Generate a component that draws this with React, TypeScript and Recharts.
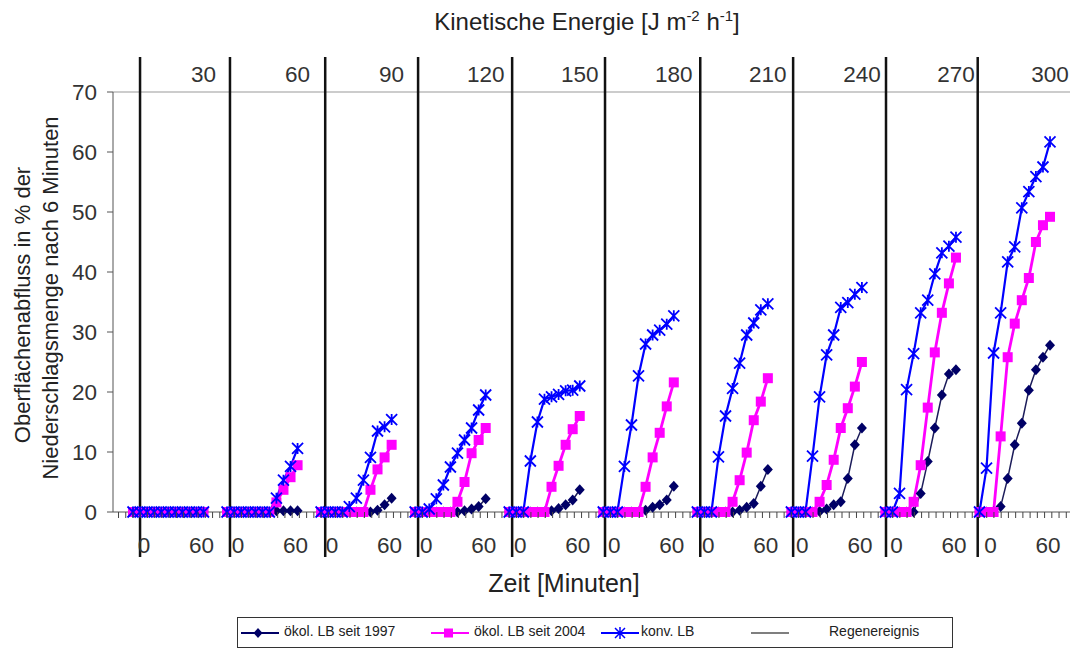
import { LineChart, Line, XAxis, YAxis, ReferenceLine, Label } from "recharts";

// kinetic energy per panel [J m-2 h-1]
const energies = [30, 60, 90, 120, 150, 180, 210, 240, 270, 300];
// reading times inside a panel [min]
const minutes = [0, 6, 12, 18, 24, 30, 36, 42, 48, 54, 60];
// start of the rain event (Regenereignis) per panel [min]
const rainStart = [6, 2.5, 3.5, 2.5, 2.5, 1.5, 2.5, 1.5, 0.5, -1.5];

// surface runoff in % of precipitation, one row per energy level
const oekol1997 = [
  [0, 0, 0, 0, 0, 0, 0, 0, 0, 0, 0],
  [0, 0, 0, 0, 0, 0, 0, 0.2, 0.2, 0.2, 0.2],
  [0, 0, 0, 0, 0, 0, 0, 0, 0.3, 1.2, 2.3],
  [0, 0, 0, 0, 0, 0, 0, 0.2, 0.5, 0.9, 2.2],
  [0, 0, 0, 0, 0, 0, 0.2, 0.6, 1.2, 2, 3.7],
  [0, 0, 0, 0, 0, 0, 0.3, 0.8, 1.2, 2, 4.3],
  [0, 0, 0, 0, 0, 0, 0.3, 0.8, 1.4, 4.3, 7.1],
  [0, 0, 0, 0, 0.1, 0.5, 1.2, 1.7, 5.6, 11.2, 14],
  [0, 0, 0, 0, 0, 3.1, 8.4, 14, 19.5, 23, 23.7],
  [0, 0, 0, 0.9, 5.6, 11.2, 14.8, 20.3, 23.7, 25.8, 27.8],
];
const oekol2004 = [
  [0, 0, 0, 0, 0, 0, 0, 0, 0, 0, 0],
  [0, 0, 0, 0, 0, 0, 0, 1.6, 3.7, 5.8, 7.8],
  [0, 0, 0, 0, 0, 0, 0, 3.7, 7.1, 9.1, 11.2],
  [0, 0, 0, 0, 0, 0, 1.7, 5, 9.8, 12, 14],
  [0, 0, 0, 0, 0, 0, 4.2, 7.7, 11.2, 13.8, 16],
  [0, 0, 0, 0, 0, 0, 4.2, 9.1, 13.2, 17.6, 21.6],
  [0, 0, 0, 0, 0, 1.7, 5.3, 9.9, 15.3, 18.4, 22.3],
  [0, 0, 0, 0, 1.7, 4.5, 8.7, 14, 17.3, 20.9, 25],
  [0, 0, 0, 0, 1.7, 7.8, 17.4, 26.6, 33.2, 38.1, 42.4],
  [0, 0, 0, 12.6, 25.8, 31.4, 35.3, 39, 45, 47.8, 49.2],
];
const konv = [
  [0, 0, 0, 0, 0, 0, 0, 0, 0, 0, 0],
  [0, 0, 0, 0, 0, 0, 0, 2.3, 5.3, 7.6, 10.6],
  [0, 0, 0, 0, 0.9, 2.3, 5.3, 9.1, 13.5, 14.2, 15.4],
  [0, 0, 0.5, 2.2, 4.5, 7.5, 9.8, 12, 14, 17, 19.5],
  [0, 0, 0, 8.5, 15, 18.8, 19.2, 19.6, 20.2, 20.3, 21],
  [0, 0, 0, 7.6, 14.5, 22.7, 28, 29.5, 30.3, 31.3, 32.7],
  [0, 0, 0, 9.2, 16, 20.6, 24.8, 29.5, 31.5, 33.7, 34.7],
  [0, 0, 0, 9.3, 19.2, 26.2, 29.5, 34.1, 34.9, 36.3, 37.4],
  [0, 0, 3.1, 20.4, 26.4, 33.2, 35.3, 39.7, 43.2, 44.3, 45.8],
  [0, 7.3, 26.5, 33.2, 41.7, 44.2, 50.7, 53.4, 55.9, 57.5, 61.7],
];
const yTicks = [0, 10, 20, 30, 40, 50, 60, 70];

// each panel takes PERIOD minutes on the shared x axis
const PERIOD = 80;
const X_DOMAIN = [-17, 797];
const FONT = "'Liberation Sans', Arial, sans-serif";
const TICK_SIZE = 22.5;
const NAVY = "#000066";
const MAGENTA = "#ff00ff";
const BLUE = "#0000ff";

const rows: any[] = [];
energies.forEach((_, i) => {
  minutes.forEach((t, j) => {
    rows.push({
      x: i * PERIOD + t,
      oekol1997: oekol1997[i][j],
      oekol2004: oekol2004[i][j],
      konv: konv[i][j],
    });
  });
  // gap row so the lines break between panels
  rows.push({ x: i * PERIOD + 70, oekol1997: null, oekol2004: null, konv: null });
});

// minor ticks every PERIOD/13 minutes plus the "60" label of each panel
const minorStep = PERIOD / 13;
const bottomTicks: number[] = [];
for (let k = -2; k * minorStep <= X_DOMAIN[1]; k++) bottomTicks.push((k * PERIOD) / 13);
energies.forEach((_, i) => bottomTicks.push(i * PERIOD + 60));
bottomTicks.sort((a, b) => a - b);

const BottomTick = (p: any) => {
  const v = p.payload.value;
  const rel = Math.round((((v % PERIOD) + PERIOD) % PERIOD) * 100) / 100;
  const txt = { fontSize: TICK_SIZE, fill: "#333", fontFamily: FONT, textAnchor: "middle" as const };
  if (rel === 60) {
    return (
      <text x={p.x - 2} y={p.y + 41} {...txt}>
        60
      </text>
    );
  }
  return (
    <g>
      <line x1={p.x} x2={p.x} y1={p.y} y2={p.y + 6} stroke="#444" strokeWidth={1} />
      {rel === 0 && (
        <text x={p.x + 11} y={p.y + 41} {...txt}>
          0
        </text>
      )}
    </g>
  );
};

const diamondDot = (p: any) => {
  if (p.cy == null || p.cx == null) return <g key={p.index} />;
  const { cx, cy } = p;
  return (
    <path
      key={p.index}
      d={`M${cx},${cy - 5.5}L${cx + 5},${cy}L${cx},${cy + 5.5}L${cx - 5},${cy}Z`}
      fill={NAVY}
    />
  );
};

const squareDot = (p: any) => {
  if (p.cy == null || p.cx == null) return <g key={p.index} />;
  return <rect key={p.index} x={p.cx - 5} y={p.cy - 5} width={10} height={10} fill={MAGENTA} />;
};

const starDot = (p: any) => {
  if (p.cy == null || p.cx == null) return <g key={p.index} />;
  const { cx, cy } = p;
  return (
    <path
      key={p.index}
      d={`M${cx - 5.5},${cy - 5.5}L${cx + 5.5},${cy + 5.5}M${cx - 5.5},${cy + 5.5}L${cx + 5.5},${cy - 5.5}M${cx},${cy - 5.5}L${cx},${cy + 5.5}`}
      stroke={BLUE}
      strokeWidth={1.8}
      fill="none"
    />
  );
};

// rain event lines reach above and below the plot area
const rainLine = (p: any) => (
  <line
    x1={p.x1}
    x2={p.x2}
    y1={Math.min(p.y1, p.y2) - 35}
    y2={Math.max(p.y1, p.y2) + 45}
    stroke="#111"
    strokeWidth={2.5}
  />
);

const Titles = () => (
  <g fontFamily={FONT} fill="#222">
    <text x={587} y={30} textAnchor="middle" fontSize={24}>
      <tspan>Kinetische Energie [J m</tspan>
      <tspan dy={-9} fontSize={15}>-2</tspan>
      <tspan dy={9}> h</tspan>
      <tspan dy={-9} fontSize={15}>-1</tspan>
      <tspan dy={9}>]</tspan>
    </text>
    <text x={564} y={592} textAnchor="middle" fontSize={25}>
      Zeit [Minuten]
    </text>
  </g>
);

const YTitle = () => (
  <g fontSize={22} fill="#222" fontFamily={FONT}>
    <text x={22} y={305} textAnchor="middle" dominantBaseline="central" transform="rotate(-90 22 305)">
      Oberflächenabfluss in % der
    </text>
    <text x={50} y={298} textAnchor="middle" dominantBaseline="central" transform="rotate(-90 50 298)">
      Niederschlagsmenge nach 6 Minuten
    </text>
  </g>
);

const legendItems = [
  { label: "ökol. LB seit 1997", color: NAVY, marker: "diamond", left: 3, text: 46 },
  { label: "ökol. LB seit 2004", color: MAGENTA, marker: "square", left: 193, text: 236 },
  { label: "konv. LB", color: BLUE, marker: "star", left: 363, text: 403 },
  { label: "Regenereignis", color: "#555", marker: "none", left: 513, text: 591 },
];

const LegendBox = () => (
  <div
    style={{
      position: "absolute",
      left: 237,
      top: 617,
      width: 716,
      height: 31,
      border: "1px solid #333",
      boxSizing: "border-box",
      fontFamily: FONT,
      fontSize: 14,
      color: "#222",
      background: "#fff",
    }}
  >
    {legendItems.map((it) => (
      <div key={it.label}>
        <svg width={40} height={14} style={{ position: "absolute", left: it.left, top: 8 }}>
          <line x1={0} x2={38} y1={7} y2={7} stroke={it.color} strokeWidth={it.marker === "none" ? 1.5 : 2} />
          {it.marker === "diamond" && <path d="M17,2L21.5,7L17,12L12.5,7Z" fill={it.color} />}
          {it.marker === "square" && <rect x={13} y={2.5} width={9} height={9} fill={it.color} />}
          {it.marker === "star" && (
            <path d="M14,2L24,12M14,12L24,2M19,1L19,13" stroke={it.color} strokeWidth={1.5} />
          )}
        </svg>
        <span style={{ position: "absolute", left: it.text, top: 5, whiteSpace: "nowrap" }}>{it.label}</span>
      </div>
    ))}
  </div>
);

export default function App() {
  return (
    <div style={{ position: "absolute", left: 0, top: 0, width: 1072, height: 650, background: "#fff" }}>
      <LineChart width={1072} height={650} data={rows} margin={{ top: 92, right: 2, bottom: 58, left: 0 }}>
        <XAxis
          dataKey="x"
          type="number"
          domain={X_DOMAIN}
          ticks={bottomTicks}
          interval={0}
          allowDataOverflow
          tickLine={false}
          tickSize={0}
          tickMargin={0}
          height={80}
          stroke="#555"
          tick={BottomTick}
        >
          <Label content={Titles} />
        </XAxis>
        <YAxis
          type="number"
          domain={[0, 70]}
          ticks={yTicks}
          interval={0}
          width={113}
          tickSize={6}
          tickMargin={10}
          stroke="#555"
          tick={{ fontSize: TICK_SIZE, fill: "#333", fontFamily: FONT }}
        >
          <Label content={YTitle} />
        </YAxis>
        <ReferenceLine y={70} stroke="#999" strokeWidth={1} />
        {energies.map((e, i) => (
          <ReferenceLine
            key={`e${e}`}
            x={i * PERIOD + 60}
            stroke="none"
            label={{ value: e, position: "top", offset: 10, fontSize: TICK_SIZE, fill: "#333", fontFamily: FONT }}
          />
        ))}
        <Line
          dataKey="oekol1997"
          type="linear"
          stroke="#1c1c5a"
          strokeWidth={1.5}
          dot={diamondDot}
          connectNulls={false}
          isAnimationActive={false}
        />
        <Line
          dataKey="oekol2004"
          type="linear"
          stroke={MAGENTA}
          strokeWidth={2.8}
          dot={squareDot}
          connectNulls={false}
          isAnimationActive={false}
        />
        <Line
          dataKey="konv"
          type="linear"
          stroke={BLUE}
          strokeWidth={2.2}
          dot={starDot}
          connectNulls={false}
          isAnimationActive={false}
        />
        {rainStart.map((r, i) => (
          <ReferenceLine key={i} x={i * PERIOD + r} shape={rainLine} />
        ))}
      </LineChart>
      <LegendBox />
    </div>
  );
}
